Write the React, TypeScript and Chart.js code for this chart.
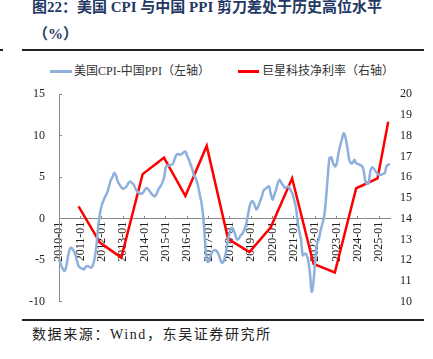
import React, { useEffect, useRef } from "react";
import { Chart, registerables } from "chart.js";

Chart.register(...registerables);

// ---- categories: monthly, 2010-01 .. 2025-07 ----
const START_YEAR = 2010;
const MONTH_COUNT = 187;
const months: string[] = [];
for (let i = 0; i < MONTH_COUNT; i++) {
  const y = START_YEAR + Math.floor(i / 12);
  const m = (i % 12) + 1;
  months.push(`${y}-${m < 10 ? "0" + m : m}`);
}

// ---- 美国CPI-中国PPI (left axis, %), monthly ----
const cpiPpiSpread: number[] = [
  // 2010
  -4.9, -5.5, -6.0, -6.3, -5.8, -4.6, -3.7, -3.5, -3.8, -4.2, -5.0, -5.7,
  // 2011
  -5.9, -6.0, -6.1, -5.8, -5.7, -5.8, -5.9, -5.6, -4.8, -3.3, -1.0, 0.6,
  // 2012
  1.6, 2.2, 2.7, 3.1, 3.8, 4.6, 5.0, 5.5, 5.2, 4.5, 4.1, 3.8,
  // 2013
  3.6, 3.7, 3.9, 4.3, 4.5, 4.3, 4.1, 3.6, 3.3, 3.1, 3.0, 3.1,
  // 2014
  3.4, 3.7, 3.6, 3.3, 3.0, 2.8, 2.7, 3.1, 3.6, 3.9, 4.3, 4.9,
  // 2015
  6.2, 6.4, 6.4, 6.5, 6.6, 7.2, 7.7, 7.8, 7.7, 7.8, 8.0, 8.1,
  // 2016
  7.6, 7.1, 6.5, 5.9, 5.1, 4.8, 4.1, 3.0, 2.0, 0.3, -2.5, -5.0,
  // 2017
  -5.2, -4.6, -4.0, -3.8, -3.8, -4.0, -4.5, -5.1, -5.3, -4.8, -3.8, -2.5,
  // 2018
  -1.6, -1.1, -1.3, -1.9, -2.5, -2.4, -2.0, -1.8, -1.4, -0.8, 0.2, 1.4,
  // 2019
  2.0, 2.1, 1.6, 1.1, 1.5, 2.1, 2.7, 3.4, 3.6, 3.8, 3.9, 3.0,
  // 2020
  2.3, 2.9, 3.5, 4.3, 4.7, 4.3, 4.0, 3.7, 3.8, 3.9, 3.5, 3.1,
  // 2021
  2.4, 1.5, -0.1, -1.5, -2.5, -4.4, -4.2, -4.3, -5.0, -6.5, -8.8, -7.6,
  // 2022
  -4.9, -3.0, -2.5, -1.4, -0.6, 0.3, 2.3, 5.0, 7.3, 7.4, 6.7, 6.3,
  // 2023
  6.6, 7.8, 8.8, 9.6, 10.3, 9.8, 8.6, 7.2, 6.7, 6.7, 7.1, 6.7,
  // 2024
  6.6, 6.5, 6.4, 6.0, 4.7, 4.2, 4.3, 5.8, 6.2, 6.0, 5.7, 5.4,
  // 2025
  5.3, 5.3, 5.4, 5.5, 6.3, 6.5, 6.6,
];

// ---- 巨星科技净利率 (right axis, %), annual ----
const marginDates: string[] = [
  "2010-12", "2011-12", "2012-12", "2013-12", "2014-12", "2015-12", "2016-12", "2017-12",
  "2018-12", "2019-12", "2020-12", "2021-12", "2022-12", "2023-12", "2024-12", "2025-06",
];
const netMargin: number[] = [
  14.6, 12.85, 12.13, 16.15, 16.94, 15.1, 17.51, 13.03,
  12.39, 13.59, 15.95, 11.83, 11.41, 15.47, 15.95, 18.67,
];

const leftAxis = { min: -10, max: 15, step: 5 };
const rightAxis = { min: 10, max: 20, step: 1 };

const TITLE = "图22：美国 CPI 与中国 PPI 剪刀差处于历史高位水平";
const SUBTITLE = "（%）";
const SERIES_NAMES = ["美国CPI-中国PPI（左轴）", "巨星科技净利率（右轴）"];
const SOURCE = "数据来源：Wind，东吴证券研究所";

const BLUE = "#8eb0dc";
const RED = "#ff0000";
const AXIS_GRAY = "#8a8a8a";
const SERIF = '"Liberation Serif", "Times New Roman", "Noto Sans CJK SC", serif';

export default function App() {
  const canvasRef = useRef<HTMLCanvasElement | null>(null);

  useEffect(() => {
    if (!canvasRef.current) return;
    const marginSeries = months.map((m) => {
      const k = marginDates.indexOf(m);
      return k >= 0 ? netMargin[k] : null;
    });
    const chart = new Chart(canvasRef.current, {
      type: "line",
      data: {
        labels: months,
        datasets: [
          {
            label: SERIES_NAMES[0],
            data: cpiPpiSpread,
            borderColor: BLUE,
            backgroundColor: BLUE,
            borderWidth: 2.5,
            pointRadius: 0,
            tension: 0.3,
            yAxisID: "y",
          },
          {
            label: SERIES_NAMES[1],
            data: marginSeries,
            borderColor: RED,
            backgroundColor: RED,
            borderWidth: 2.5,
            pointRadius: 0,
            spanGaps: true,
            tension: 0,
            yAxisID: "y1",
          },
        ],
      },
      options: {
        animation: false,
        responsive: false,
        maintainAspectRatio: false,
        layout: { padding: 0 },
        plugins: {
          legend: { display: false },
          tooltip: { enabled: false },
          title: { display: false },
        },
        scales: {
          x: {
            type: "category",
            position: { y: 0 } as any,
            offset: false,
            grid: {
              display: true,
              drawOnChartArea: false,
              drawTicks: true,
              tickLength: -3,
              tickColor: (ctx: any) => (ctx.index % 12 === 0 ? AXIS_GRAY : "rgba(0,0,0,0)"),
            },
            border: { display: true, color: AXIS_GRAY, width: 1 },
            ticks: {
              autoSkip: false,
              minRotation: 90,
              maxRotation: 90,
              padding: 6,
              color: "#222",
              font: { family: SERIF, size: 12 },
              callback: (_v: any, index: number) => (index % 12 === 0 ? months[index] : ""),
            },
          },
          y: {
            position: "left",
            min: leftAxis.min,
            max: leftAxis.max,
            grid: {
              display: true,
              drawOnChartArea: false,
              drawTicks: true,
              tickLength: -3,
              tickColor: AXIS_GRAY,
            },
            border: { display: true, color: AXIS_GRAY, width: 1 },
            ticks: {
              stepSize: leftAxis.step,
              padding: 17,
              color: "#222",
              font: { family: SERIF, size: 12 },
            },
            afterFit: (scale: any) => {
              scale.width = 59;
            },
          },
          y1: {
            position: "right",
            min: rightAxis.min,
            max: rightAxis.max,
            grid: { display: false, drawTicks: false, drawOnChartArea: false },
            border: { display: false },
            ticks: {
              stepSize: rightAxis.step,
              padding: 10,
              color: "#222",
              font: { family: SERIF, size: 12 },
            },
            afterFit: (scale: any) => {
              scale.width = 43;
            },
          },
        },
      },
    });
    return () => chart.destroy();
  }, []);

  const textBase: React.CSSProperties = {
    position: "absolute",
    whiteSpace: "nowrap",
    fontFamily: SERIF,
  };

  return (
    <div
      style={{
        position: "absolute",
        left: 0,
        top: 0,
        width: 433,
        height: 359,
        background: "#fff",
        overflow: "hidden",
      }}
    >
      <div
        style={{
          ...textBase,
          left: 32,
          top: -3,
          fontSize: 15,
          lineHeight: "20px",
          fontWeight: "bold",
          color: "#1f3864",
          letterSpacing: 0,
        }}
      >
        {TITLE}
      </div>
      <div
        style={{
          ...textBase,
          left: 33,
          top: 24,
          fontSize: 15,
          lineHeight: "20px",
          fontWeight: "bold",
          color: "#1f3864",
        }}
      >
        {SUBTITLE}
      </div>
      <div style={{ position: "absolute", left: 0, top: 49, width: 3, height: 2, background: "#222" }} />
      <div style={{ position: "absolute", left: 22, top: 49, width: 402, height: 2, background: "#222" }} />

      {/* legend */}
      <div style={{ position: "absolute", left: 50, top: 70, width: 22, height: 2.5, background: BLUE }} />
      <div style={{ ...textBase, left: 74, top: 63, fontSize: 12, lineHeight: "16px", color: "#333" }}>
        {SERIES_NAMES[0]}
      </div>
      <div style={{ position: "absolute", left: 238, top: 70, width: 21, height: 2.5, background: RED }} />
      <div style={{ ...textBase, left: 262, top: 63, fontSize: 12, lineHeight: "16px", color: "#333" }}>
        {SERIES_NAMES[1]}
      </div>

      <div style={{ position: "absolute", left: 22, top: 319, width: 402, height: 2, background: "#222" }} />
      <div
        style={{
          ...textBase,
          left: 32,
          top: 326,
          fontSize: 14,
          lineHeight: "18px",
          color: "#222",
          letterSpacing: 1.6,
        }}
      >
        {SOURCE}
      </div>

      <canvas
        ref={canvasRef}
        width={433}
        height={256}
        style={{ position: "absolute", left: 0, top: 70, width: 433, height: 256 }}
      />
    </div>
  );
}
